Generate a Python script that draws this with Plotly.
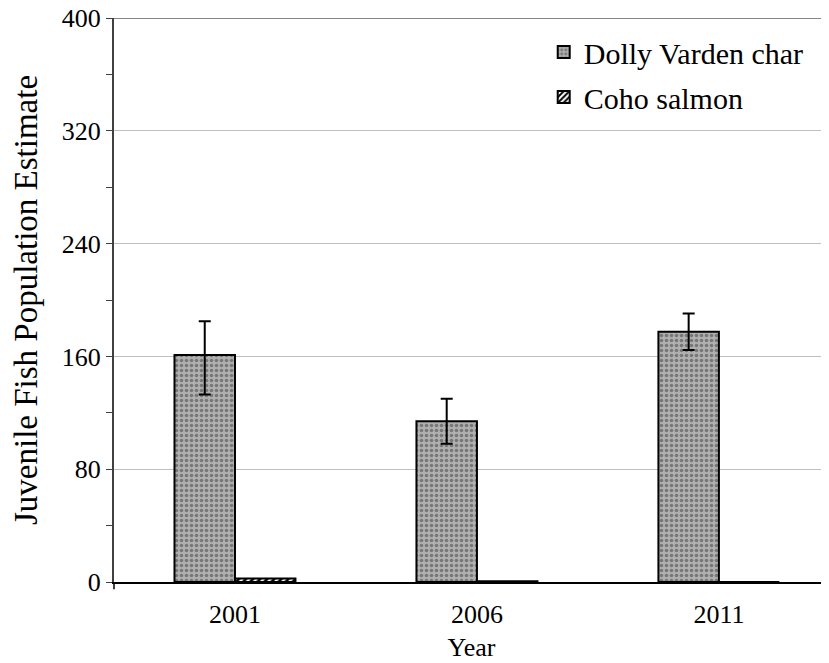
import plotly.graph_objects as go

years = ["2001", "2006", "2011"]
dolly = [161, 114, 177.5]
dolly_err_plus = [24, 16, 13]
dolly_err_minus = [28, 16, 13]
coho = [2.5, 0.5, 0]

FONT = "Liberation Serif"
FS = 26

fig = go.Figure()
fig.add_trace(go.Bar(
    x=years, y=dolly, name="Dolly Varden char", legendgroup="a",
    marker=dict(color="#a6a6a6", line=dict(color="black", width=2),
                pattern=dict(shape=".", bgcolor="#b0b0b0", fgcolor="#777777",
                             size=5, solidity=0.4, fillmode="replace")),
    error_y=dict(type="data", array=dolly_err_plus, arrayminus=dolly_err_minus,
                 symmetric=False, color="black", thickness=2, width=6),
))
fig.add_trace(go.Bar(
    x=years, y=coho, name="Coho salmon", legendgroup="b",
    marker=dict(color="white", line=dict(color="black", width=2),
                pattern=dict(shape="/", bgcolor="white", fgcolor="black",
                             size=5, solidity=0.5, fillmode="replace")),
))

fig.update_layout(
    width=829, height=663,
    margin=dict(l=106, r=8, t=10, b=89, autoexpand=False),
    paper_bgcolor="white", plot_bgcolor="white",
    barmode="group", bargap=0.5, bargroupgap=0,
    font=dict(family=FONT, size=FS, color="black"),
    showlegend=True,
    legend=dict(x=0.601, y=0.986, xanchor="left", yanchor="top",
                bgcolor="rgba(0,0,0,0)", font=dict(size=30, family=FONT),
                traceorder="grouped", tracegroupgap=3),
    xaxis=dict(type="category", range=[-0.5, 2.455], showgrid=False, automargin=False,
               showline=True, linecolor="black", linewidth=1.5,
               ticks="outside", ticklen=8, tickcolor="rgba(0,0,0,0)",
               title=dict(text="Year", standoff=10, font=dict(size=FS, family=FONT)),
               tickfont=dict(size=FS, family=FONT)),
    yaxis=dict(range=[0, 400], dtick=80, tick0=0, showgrid=True, automargin=False,
               ticklabeloverflow="allow",
               gridcolor="#c0c0c0", gridwidth=1, zeroline=False,
               showline=True, linecolor="#404040", linewidth=2,
               ticks="outside", ticklen=6, tickcolor="#404040", tickwidth=1,
               minor=dict(dtick=40, ticks="outside", ticklen=6, tickcolor="#404040", showgrid=False),
               title=dict(text="Juvenile Fish Population Estimate", standoff=26,
                          font=dict(size=33, family=FONT)),
               tickfont=dict(size=FS, family=FONT)),
)
fig.add_shape(type="line", xref="paper", yref="y", x0=0, x1=1, y0=400, y1=400,
              line=dict(color="#868686", width=2))
fig.add_shape(type="line", xref="paper", yref="paper", x0=0, x1=0, y0=0, y1=-0.013,
              line=dict(color="black", width=1.5))

fig.write_html("out.html")
